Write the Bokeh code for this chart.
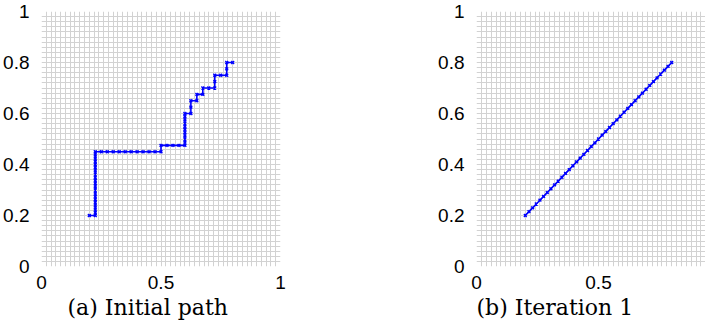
from bokeh.plotting import figure
from bokeh.layouts import row
from bokeh.models import FixedTicker, Title
from bokeh.embed import file_html
from bokeh.resources import INLINE

# ---- data ----
# (a) initial path: corner vertices of the staircase
init_x = [0.2, 0.225, 0.225, 0.5, 0.5, 0.6, 0.6, 0.625, 0.625, 0.65, 0.65, 0.675, 0.675, 0.725, 0.725, 0.775, 0.775, 0.8]
init_y = [0.2, 0.2, 0.45, 0.45, 0.475, 0.475, 0.6, 0.6, 0.65, 0.65, 0.675, 0.675, 0.7, 0.7, 0.75, 0.75, 0.8, 0.8]
# (a) sample points along the initial path
init_pts_x = [0.2, 0.225,
              0.225, 0.225, 0.225, 0.225, 0.225, 0.225, 0.225, 0.225, 0.225, 0.225,
              0.225, 0.225, 0.225, 0.225, 0.225, 0.225, 0.225, 0.225, 0.225, 0.225,
              0.25, 0.275, 0.3, 0.325, 0.35, 0.375, 0.4, 0.425, 0.45, 0.475, 0.5,
              0.5, 0.525, 0.55, 0.575, 0.6,
              0.6, 0.6, 0.6, 0.6, 0.6, 0.6, 0.6, 0.6, 0.6, 0.6,
              0.625, 0.625, 0.625, 0.65, 0.65, 0.675, 0.675, 0.7, 0.725, 0.725, 0.725,
              0.75, 0.775, 0.775, 0.775, 0.8]
init_pts_y = [0.2, 0.2,
              0.2125, 0.225, 0.2375, 0.25, 0.2625, 0.275, 0.2875, 0.3, 0.3125, 0.325,
              0.3375, 0.35, 0.3625, 0.375, 0.3875, 0.4, 0.4125, 0.425, 0.4375, 0.45,
              0.45, 0.45, 0.45, 0.45, 0.45, 0.45, 0.45, 0.45, 0.45, 0.45, 0.45,
              0.475, 0.475, 0.475, 0.475, 0.475,
              0.4875, 0.5, 0.5125, 0.525, 0.5375, 0.55, 0.5625, 0.575, 0.5875, 0.6,
              0.6, 0.625, 0.65, 0.65, 0.675, 0.675, 0.7, 0.7, 0.7, 0.725, 0.75,
              0.75, 0.75, 0.775, 0.8, 0.8]

# (b) path after iteration 1
iter_x = [0.2, 0.215, 0.23, 0.245, 0.26, 0.275, 0.29, 0.305, 0.32, 0.335,
          0.35, 0.365, 0.38, 0.395, 0.41, 0.425, 0.44, 0.455, 0.47, 0.485,
          0.5, 0.515, 0.53, 0.545, 0.56, 0.575, 0.59, 0.605, 0.62, 0.635,
          0.65, 0.665, 0.68, 0.695, 0.71, 0.725, 0.74, 0.755, 0.77, 0.785, 0.8]
iter_y = [0.2, 0.215, 0.23, 0.245, 0.26, 0.275, 0.29, 0.305, 0.32, 0.335,
          0.35, 0.365, 0.38, 0.395, 0.41, 0.425, 0.44, 0.455, 0.47, 0.485,
          0.5, 0.515, 0.53, 0.545, 0.56, 0.575, 0.59, 0.605, 0.62, 0.635,
          0.65, 0.665, 0.68, 0.695, 0.71, 0.725, 0.74, 0.755, 0.77, 0.785, 0.8]

x_ticks = [0, 0.5, 1]
x_labels = {0: "0", 0.5: "0.5", 1: "1"}
y_ticks = [0, 0.2, 0.4, 0.6, 0.8, 1]
y_labels = {0: "0", 0.2: "0.2", 0.4: "0.4", 0.6: "0.6", 0.8: "0.8", 1: "1"}

captions = ["(a) Initial path", "(b) Iteration 1"]

BLUE = "#0000ff"
GRID = [i / 50 for i in range(51)]


def make_fig(width, border_left, border_right, x_end, caption, cap_offset):
    p = figure(width=width, height=320, x_range=(0, x_end), y_range=(0, 1),
               output_backend="svg", toolbar_location=None,
               min_border_left=border_left, min_border_right=border_right,
               min_border_top=11, min_border_bottom=0)
    p.outline_line_color = None
    p.background_fill_color = "white"
    for g in (p.xgrid, p.ygrid):
        g.ticker = FixedTicker(ticks=GRID)
        g.grid_line_color = "#d2d2d2"
        g.grid_line_width = 1
    p.xaxis.ticker = FixedTicker(ticks=x_ticks)
    p.yaxis.ticker = FixedTicker(ticks=y_ticks)
    p.xaxis.major_label_overrides = x_labels
    p.yaxis.major_label_overrides = y_labels
    for ax in (p.xaxis, p.yaxis):
        ax.axis_line_color = None
        ax.major_tick_line_color = None
        ax.minor_tick_line_color = None
        ax.major_label_text_font = "Liberation Sans"
        ax.major_label_text_font_size = "19px"
        ax.major_label_text_color = "black"
    p.xaxis.major_label_standoff = 3
    p.yaxis.major_label_standoff = 6
    t = Title(text=caption, align="left", offset=cap_offset,
              text_font="DejaVu Serif", text_font_style="normal",
              text_font_size="22px", text_color="black", standoff=2)
    p.add_layout(t, "below")
    return p


p1 = make_fig(356, 36, 76, 1, captions[0], 26)
p1.line(init_x, init_y, line_color=BLUE, line_width=1.6)
p1.scatter(init_pts_x, init_pts_y, marker="x", size=4, line_color=BLUE, line_width=1.4)

p2 = make_fig(349, 120, 0, 0.9385, captions[1], 0)
p2.line(iter_x, iter_y, line_color=BLUE, line_width=1.6)
p2.scatter(iter_x, iter_y, marker="x", size=4, line_color=BLUE, line_width=1.4)

layout = row(p1, p2)
open("out.html", "w").write(file_html(layout, INLINE))
